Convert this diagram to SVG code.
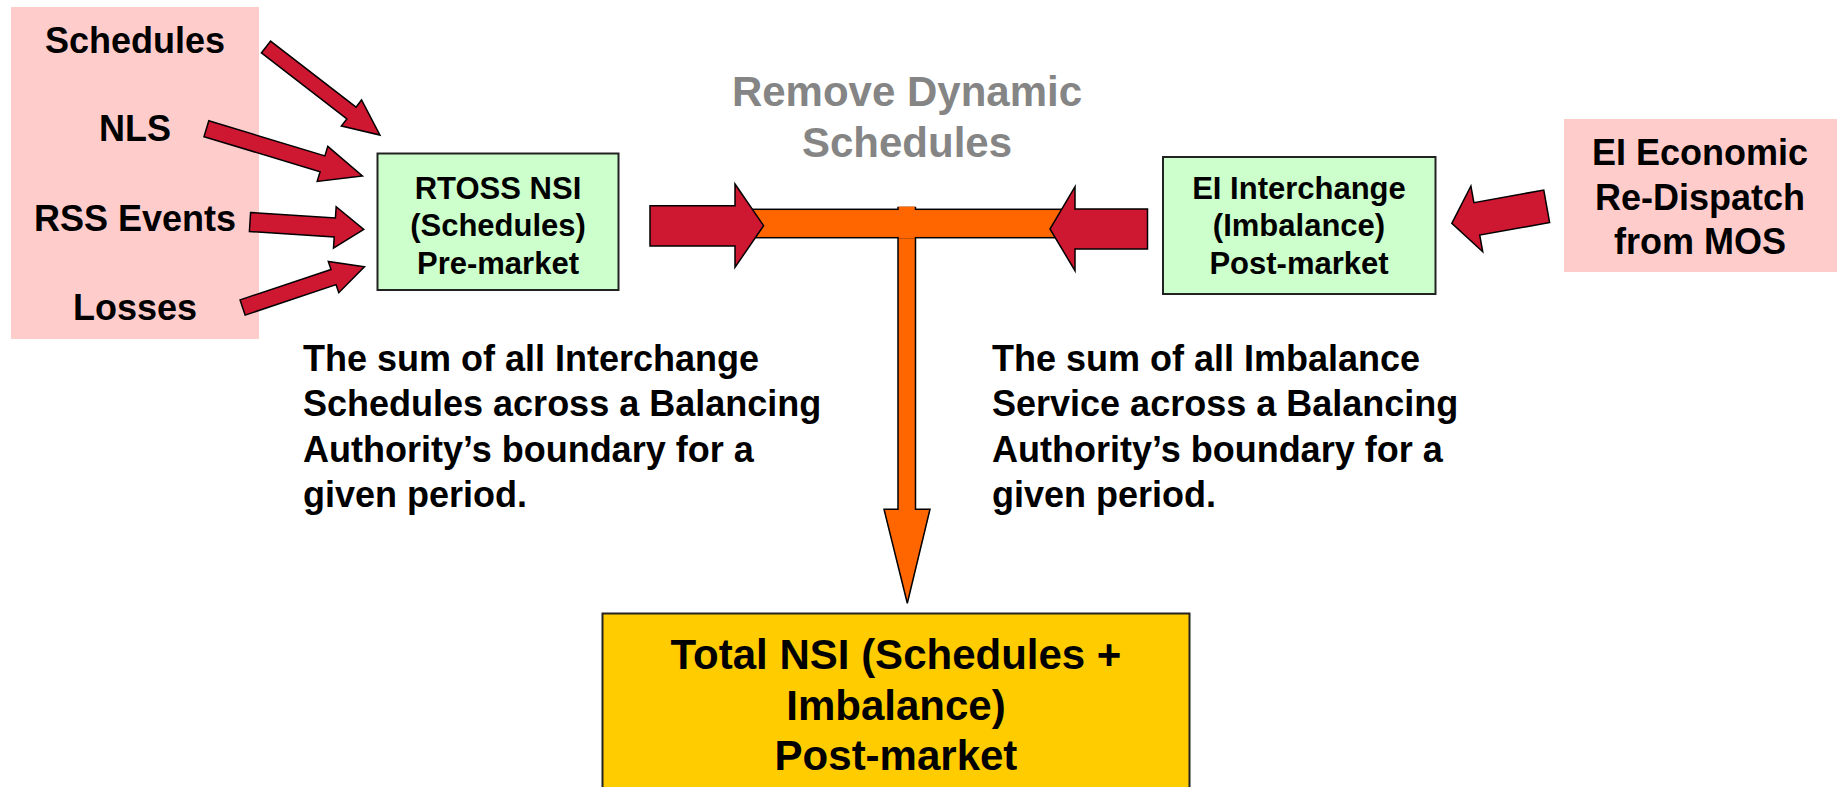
<svg xmlns="http://www.w3.org/2000/svg" width="1837" height="787" viewBox="0 0 1837 787">
<style>
text{font-family:"Liberation Sans",Arial,Helvetica,sans-serif;font-weight:bold;fill:#000}
.src{fill:#FFCCCC;stroke:none}
.box{fill:#CCFFCC;stroke:#222;stroke-width:2}
.tot{fill:#FFCC00;stroke:#222;stroke-width:2}
.red{fill:#CE1731;stroke:#000;stroke-width:1.5;stroke-linejoin:miter}
.org{fill:#FF6600;stroke:#000;stroke-width:1.5}
.s36{font-size:36px}
.s31{font-size:31px}
.s42{font-size:42px}
.mid{text-anchor:middle}
.gray{fill:#858585}
</style>
<rect width="1837" height="787" fill="#fff"/>
<g id="inputs">
<rect class="src" x="11" y="7" width="248" height="332"/>
<text class="s36 mid" x="135" y="53">Schedules</text>
<text class="s36 mid" x="135" y="141">NLS</text>
<text class="s36 mid" x="135" y="231">RSS Events</text>
<text class="s36 mid" x="135" y="320">Losses</text>
</g>
<g id="ei-economic">
<rect class="src" x="1564" y="119" width="273" height="153"/>
<text class="s36 mid" x="1700" y="165">EI Economic</text>
<text class="s36 mid" x="1700" y="209.5">Re-Dispatch</text>
<text class="s36 mid" x="1700" y="254">from MOS</text>
</g>
<g id="rtoss">
<rect class="box" x="377.5" y="153.5" width="241" height="136.5"/>
<text class="s31 mid" x="498" y="198.5">RTOSS NSI</text>
<text class="s31 mid" x="498" y="236">(Schedules)</text>
<text class="s31 mid" x="498" y="273.5">Pre-market</text>
</g>
<g id="ei-interchange">
<rect class="box" x="1163" y="157" width="272.5" height="137"/>
<text class="s31 mid" x="1299" y="198.5">EI Interchange</text>
<text class="s31 mid" x="1299" y="236">(Imbalance)</text>
<text class="s31 mid" x="1299" y="273.5">Post-market</text>
</g>
<g id="remove-label">
<text class="s42 mid gray" x="907" y="106">Remove Dynamic</text>
<text class="s42 mid gray" x="907" y="157">Schedules</text>
</g>
<g id="desc-left">
<text class="s36" x="303" y="370.5">The sum of all Interchange</text>
<text class="s36" x="303" y="416">Schedules across a Balancing</text>
<text class="s36" x="303" y="461.5">Authority’s boundary for a</text>
<text class="s36" x="303" y="507">given period.</text>
</g>
<g id="desc-right">
<text class="s36" x="992" y="370.5">The sum of all Imbalance</text>
<text class="s36" x="992" y="416">Service across a Balancing</text>
<text class="s36" x="992" y="461.5">Authority’s boundary for a</text>
<text class="s36" x="992" y="507">given period.</text>
</g>
<g id="total">
<rect class="tot" x="602.5" y="613.5" width="587" height="190"/>
<text class="s42 mid" x="896" y="668.5">Total NSI (Schedules +</text>
<text class="s42 mid" x="896" y="720">Imbalance)</text>
<text class="s42 mid" x="896" y="770">Post-market</text>
</g>
<g id="connectors">
<path class="red" transform="translate(266,47) rotate(37.7)" d="M0,-7.5 H108 V-16.5 L144,0 L108,16.5 V7.5 H0 Z"/>
<path class="red" transform="translate(206.4,128.7) rotate(16.86)" d="M0,-8.3 H121.3 V-18.3 L163,0 L121.3,18.3 V8.3 H0 Z"/>
<path class="red" transform="translate(250,222) rotate(3.67)" d="M0,-9.5 H85 V-20.8 L114,0 L85,20.8 V9.5 H0 Z"/>
<path class="red" transform="translate(242.6,307.5) rotate(-18.5)" d="M0,-8 H95.9 V-16.5 L128.5,0 L95.9,16.5 V8 H0 Z"/>
<path class="red" transform="translate(1546.7,206.3) rotate(169.8)" d="M0,-16.5 H71 V-33.4 L96.4,0 L71,33.4 V16.5 H0 Z"/>
<polygon class="org" points="898,207.5 915.5,207.5 915.5,509.3 930,509.3 907.3,603.3 884,509.3 898,509.3"/>
<rect class="org" x="748" y="209.3" width="318" height="28.4"/>
<rect fill="#FF6600" x="898.8" y="206.6" width="15.9" height="31.9"/>
<polygon class="red" points="650,205.7 735,205.7 735,184 763.6,225.7 735,267.3 735,246 650,246"/>
<polygon class="red" points="1147.5,209 1075,209 1075,186.7 1050,229 1075,270.7 1075,249 1147.5,249"/>
</g>
</svg>
